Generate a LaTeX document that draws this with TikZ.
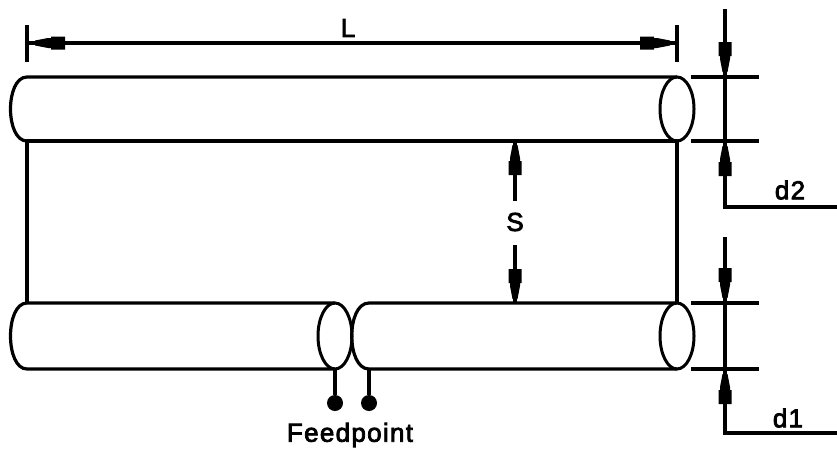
\documentclass[tikz,border=0pt]{standalone}
\usepackage{fontspec}
\setmainfont{Liberation Sans}
\newfontfamily\lblfont[FakeBold=3,LetterSpace=5]{Liberation Sans}
\usetikzlibrary{shapes.geometric}
\tikzset{
  x=1pt,y=-1pt,
  ln/.style={line width=3.2pt,black},
  endel/.style={ellipse,draw,line width=3pt,minimum width=34pt,minimum height=64pt,inner sep=0pt,outer sep=0pt},
  lbl/.style={inner sep=0pt,font=\fontsize{26}{26}\selectfont\lblfont},
  dot/.style={circle,fill=black,minimum size=16pt,inner sep=0pt},
  head/.pic={\fill[black] (0,-2.5) -- (-13,-5) -- (-16,-5) -- (-16,-6.5) -- (-30,-6.5) -- (-30,6.5) -- (-16,6.5) -- (-16,5) -- (-13,5) -- (0,2.5) -- cycle;}
}
\begin{document}
\begin{tikzpicture}
\useasboundingbox (0,0) rectangle (837,448);
% named points
\coordinate (Ltop) at (27,25); \coordinate (Lbot) at (27,62);
\coordinate (Rtop) at (677,25); \coordinate (Rbot) at (677,62);
\coordinate (La) at (27,43); \coordinate (Lb) at (677,43);
\coordinate (ut1) at (27,77); \coordinate (ut2) at (677,77);
\coordinate (ub1) at (27,141); \coordinate (ub2) at (677,141);
\coordinate (lt1) at (27,303); \coordinate (lt2) at (335,303);
\coordinate (lb1) at (27,369); \coordinate (lb2) at (335,369);
\coordinate (mt1) at (369,303); \coordinate (mt2) at (677,303);
\coordinate (mb1) at (369,369); \coordinate (mb2) at (677,369);
% end ellipses
\node[endel] (eu) at (677,109) {};
\node[endel,minimum height=66pt] (em) at (335,336) {};
\node[endel,minimum height=66pt] (el) at (677,336) {};
% tubes
\draw[ln,line cap=round] (ub1) -- (ub2);
\draw[ln] (ut2) -- (ut1) .. controls (5,77) and (5,141) .. (ub1);
\draw[ln] (lt2) -- (lt1) .. controls (5,303) and (5,369) .. (lb1) -- (lb2);
\draw[ln] (mt2) -- (mt1) .. controls (346,303) and (346,369) .. (mb1) -- (mb2);
% sides
\draw[ln] (ub1) -- (lt1);
\draw[ln] (ub2) -- (mt2);
% L dimension
\draw[ln] (Ltop) -- (Lbot);
\draw[ln] (Rtop) -- (Rbot);
\draw[ln] (La) -- (Lb);
\pic[rotate=180] at (35,43) {head};
\pic at (670,43) {head};
\node[lbl] (Ltxt) at (348,28) {L};
% S dimension
\coordinate (Sa) at (515,141); \coordinate (Sb) at (515,201);
\coordinate (Sc) at (515,245); \coordinate (Sd) at (515,303);
\draw[ln] (Sa) -- (Sb);
\draw[ln] (Sc) -- (Sd);
\pic[rotate=90] at (515,145) {head};
\pic[rotate=-90] at (515,299) {head};
\node[lbl] (Stxt) at (515,222) {S};
% d2 dimension
\coordinate (t1a) at (691,77); \coordinate (t1b) at (759,77);
\coordinate (t2a) at (691,141); \coordinate (t2b) at (759,141);
\coordinate (d2t) at (725,9); \coordinate (d2c) at (725,207); \coordinate (d2e) at (837,207);
\draw[ln] (t1a) -- (t1b);
\draw[ln] (t2a) -- (t2b);
\draw[ln] (d2t) -- (d2c) -- (d2e);
\pic[rotate=-90] at (725,72) {head};
\pic[rotate=90] at (725,146) {head};
\node[lbl] (d2txt) at (790,190) {d2};
% d1 dimension
\coordinate (t3a) at (691,303); \coordinate (t3b) at (759,303);
\coordinate (t4a) at (691,369); \coordinate (t4b) at (759,369);
\coordinate (d1t) at (725,237); \coordinate (d1c) at (725,433); \coordinate (d1e) at (837,433);
\draw[ln] (t3a) -- (t3b);
\draw[ln] (t4a) -- (t4b);
\draw[ln] (d1t) -- (d1c) -- (d1e);
\pic[rotate=-90] at (725,298) {head};
\pic[rotate=90] at (725,374) {head};
\node[lbl] (d1txt) at (788,418) {d1};
% feedpoint
\node[dot] (f1) at (335,403) {};
\node[dot] (f2) at (369,403) {};
\draw[ln] (lb2) -- (f1);
\draw[ln] (mb1) -- (f2);
\node[lbl] (ftxt) at (350,435) {Feedpoint};
\end{tikzpicture}
\end{document}
